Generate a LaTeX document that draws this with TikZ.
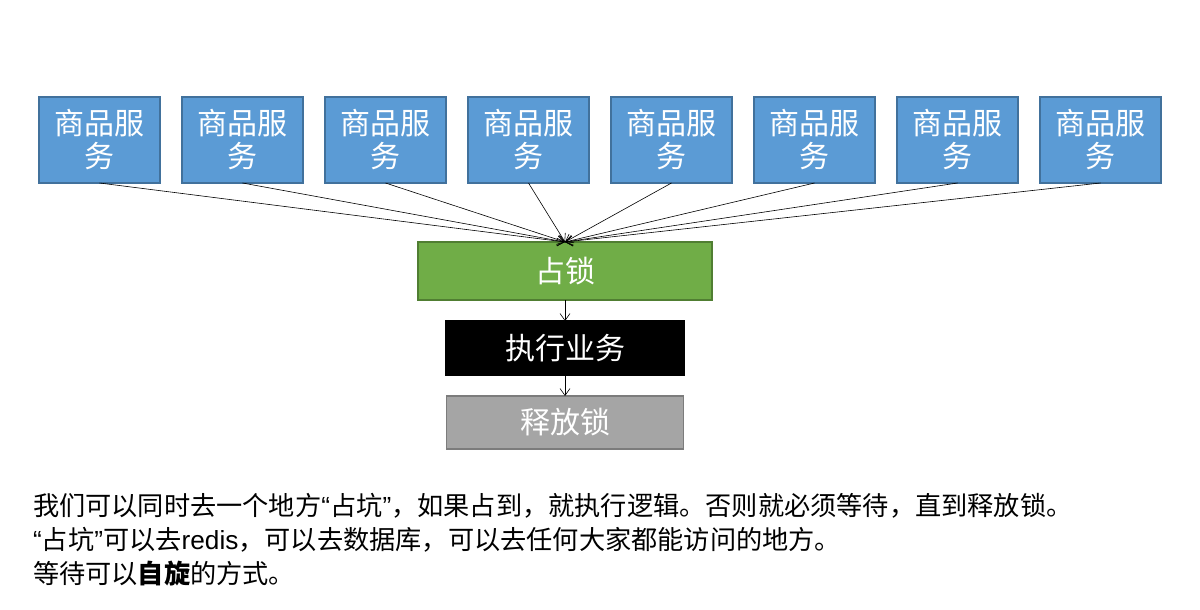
\documentclass[tikz,border=0pt]{standalone}
\usepackage{fontspec}
\setmainfont{Noto Sans CJK SC}
\newfontfamily\arialfont{Liberation Sans}
\usetikzlibrary{arrows.meta}
\definecolor{svcblue}{HTML}{5B9BD5}
\definecolor{svcblueb}{HTML}{41719C}
\definecolor{lockgreen}{HTML}{70AD47}
\definecolor{lockgreenb}{HTML}{507E32}
\definecolor{relgray}{HTML}{A5A5A5}
\definecolor{relgrayb}{HTML}{7C7C7C}
\begin{document}
\begin{tikzpicture}[x=1pt,y=-1pt,
  svcbox/.style={draw=svcblueb,fill=svcblue,line width=1.3pt,minimum width=121pt,minimum height=86pt,inner sep=0pt,outer sep=0pt,text=white,align=center,font=\fontsize{30}{33}\selectfont},
  flowbox/.style={line width=1.3pt,inner sep=0pt,outer sep=0pt,text=white,font=\fontsize{30}{33}\selectfont},
  conn/.style={draw=black,line width=0.6pt,-{Straight Barb[length=7pt,width=10pt]}},
  note/.style={anchor=base west,inner sep=0pt,font=\fontsize{26.2}{30}\selectfont}
]
\useasboundingbox (0,0) rectangle (1200,610);
\fill[white] (0,0) rectangle (1200,610);

\foreach \i/\cx in {1/99.5,2/242.5,3/385.5,4/528.5,5/671.5,6/814.5,7/957.5,8/1100.5}{
  \node[svcbox] (s\i) at (\cx,140) {商品服\\务};
}

\node[flowbox,draw=lockgreenb,fill=lockgreen,minimum width=294pt,minimum height=58pt] (lock) at (565,271) {占锁};
\node[flowbox,draw=black,fill=black,minimum width=238pt,minimum height=54pt] (exec) at (565,348) {执行业务};
\node[flowbox,draw=relgrayb,fill=relgray,minimum width=237pt,minimum height=53pt] (rel) at (565,422.5) {释放锁};

\coordinate (hub) at (565,242);
\foreach \i in {1,...,8}{
  \draw[conn] (s\i.south) -- (hub);
}
\draw[conn] (lock.south) -- (exec.north);
\draw[conn] (exec.south) -- (rel.north);

\node[note] (t1) at (33,515) {我们可以同时去一个地方{\arialfont “}占坑{\arialfont ”}，如果占到，就执行逻辑。否则就必须等待，直到释放锁。};
\node[note] (t2) at (33,549) {{\arialfont “}占坑{\arialfont ”}可以去{\arialfont redis}，可以去数据库，可以去任何大家都能访问的地方。};
\node[note] (t3) at (33,583) {等待可以\textbf{自旋}的方式。};
\end{tikzpicture}
\end{document}
